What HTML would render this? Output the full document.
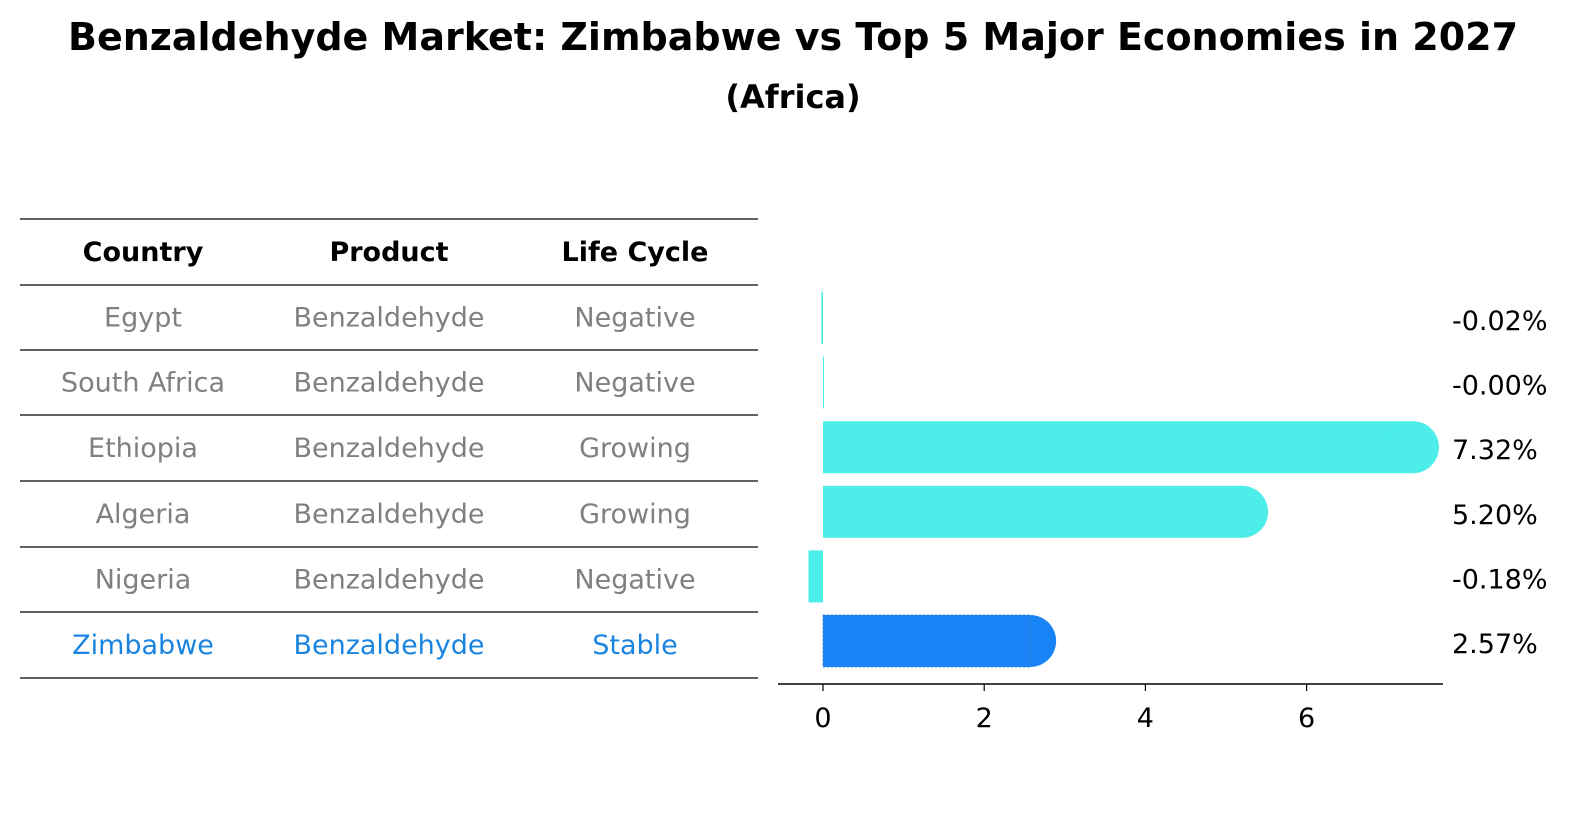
<!DOCTYPE html>
<html><head><meta charset="utf-8"><style>
html,body{margin:0;padding:0;background:#fff;overflow:hidden;width:1596px;height:823px}
svg{display:block}
svg text{font-family:"DejaVu Sans","Liberation Sans",sans-serif}
</style></head><body>
<svg id="c" width="1596" height="823" viewBox="0 0 1596 823" xmlns="http://www.w3.org/2000/svg">
<text x="793" y="50" text-anchor="middle" font-size="38" font-weight="bold">Benzaldehyde Market: Zimbabwe vs Top 5 Major Economies in 2027</text>
<text x="793" y="108" text-anchor="middle" font-size="32" font-weight="bold">(Africa)</text>
<g id="tbl"></g>
<g id="bars"></g>
</svg>
<script>
const countries=["Egypt","South Africa","Ethiopia","Algeria","Nigeria","Zimbabwe"];
const products=["Benzaldehyde","Benzaldehyde","Benzaldehyde","Benzaldehyde","Benzaldehyde","Benzaldehyde"];
const lifecycle=["Negative","Negative","Growing","Growing","Negative","Stable"];
const values=[-0.02,-0.00,7.32,5.20,-0.18,2.57];
const valueLabels=["-0.02%","-0.00%","7.32%","5.20%","-0.18%","2.57%"];
const xTicks=[0,2,4,6];
const NS="http://www.w3.org/2000/svg";
function mk(t,a,p){const e=document.createElementNS(NS,t);for(const k in a)e.setAttribute(k,a[k]);p.appendChild(e);return e;}
const tbl=document.getElementById('tbl'),bars=document.getElementById('bars');
const lineY=[219,285,350,415,481,547,612,678];
const colX=[143,389,635];
const FS=27;
lineY.forEach((y,i)=>{const l=mk('line',{x1:20,x2:758,y1:y,y2:y,stroke:'#000','stroke-width':1.2},tbl);

});
["Country","Product","Life Cycle"].forEach((h,i)=>{const t=mk('text',{x:colX[i],y:261,'text-anchor':'middle','font-size':FS,'font-weight':'bold'},tbl);t.textContent=h;

});
const x=v=>823+v*80.6;
const rowY=i=>(lineY[i+1]+lineY[i+2])/2;
countries.forEach((c,i)=>{
 const col=i===countries.length-1?'#1a84e0':'#808080';
 [c,products[i],lifecycle[i]].forEach((s,j)=>{const t=mk('text',{x:colX[j],y:rowY(i)+9,'text-anchor':'middle','font-size':FS,fill:col},tbl);t.textContent=s;
 
 });
 const cy=318+i*64.6, h=52, v=values[i];
 const last=i===countries.length-1;
 const fill=last?'#1984f5':'#4deeea';
 const g=mk('g',{},bars);
 
 
 const x0=Math.min(x(0),x(v)),w=Math.max(Math.abs(x(v)-x(0)),1);
 mk('rect',{x:x0,y:cy-h/2,width:w,height:h,fill:fill},g);
 if(v>0.5){mk('circle',{cx:x(v),cy:cy,r:h/2,fill:fill},g);}
 if(last){mk('rect',{x:x0,y:cy-h/2,width:w,height:h,fill:'none',stroke:'#3a7fd0','stroke-width':1,'stroke-dasharray':'2,2'},g);}
 const t=mk('text',{x:1452,y:cy+12,'font-size':FS},bars);t.textContent=valueLabels[i];
 
 
});
const ax=mk('line',{x1:778,x2:1443,y1:684,y2:684,stroke:'#000','stroke-width':1.5},bars);


xTicks.forEach(v=>{mk('line',{x1:x(v),x2:x(v),y1:684,y2:691,stroke:'#000','stroke-width':1.2},bars);
const t=mk('text',{x:x(v),y:727,'text-anchor':'middle','font-size':FS},bars);t.textContent=v;

});
</script>
</body></html>
